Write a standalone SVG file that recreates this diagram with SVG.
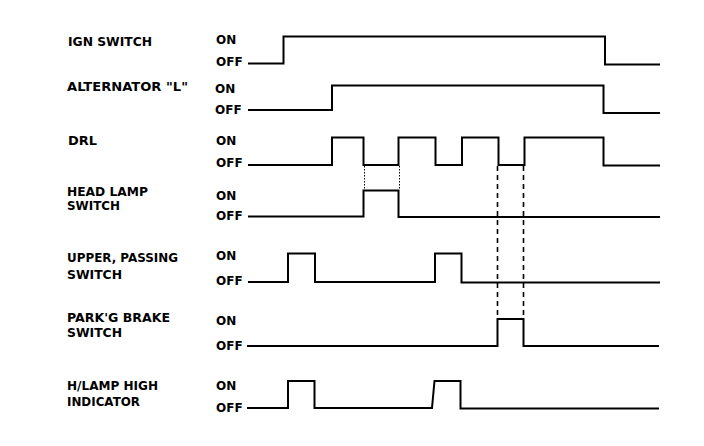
<svg xmlns="http://www.w3.org/2000/svg" width="704" height="446" viewBox="0 0 704 446">
<style>
.lbl{font-family:"DejaVu Sans","Liberation Sans",sans-serif;font-weight:bold;font-size:12px;fill:#000}
.st{font-family:"DejaVu Sans","Liberation Sans",sans-serif;font-weight:bold;font-size:12px;fill:#000}
.w{fill:none;stroke:#000;stroke-width:2;stroke-linejoin:miter}
.dot{fill:none;stroke:#000;stroke-width:1;stroke-dasharray:1.5 1.5}
.dash{fill:none;stroke:#000;stroke-width:1.6;stroke-dasharray:5 4}
</style>
<rect width="704" height="446" fill="#fff"/>
<g id="ign">
<text class="lbl" x="68" y="46" textLength="84" lengthAdjust="spacingAndGlyphs">IGN SWITCH</text>
<text class="st" x="216" y="44">ON</text>
<text class="st" x="216" y="66">OFF</text>
<path class="w" d="M248,63.5 H283.5 V36.5 H605 V64.5 H660"/>
</g>
<g id="alternator">
<text class="lbl" x="67" y="91" textLength="121" lengthAdjust="spacingAndGlyphs">ALTERNATOR "L"</text>
<text class="st" x="215" y="93">ON</text>
<text class="st" x="215" y="114">OFF</text>
<path class="w" d="M248,110 H332 V85.5 H603.5 V113 H660"/>
</g>
<g id="drl">
<text class="lbl" x="68" y="145" textLength="29" lengthAdjust="spacingAndGlyphs">DRL</text>
<text class="st" x="216" y="145">ON</text>
<text class="st" x="216" y="167">OFF</text>
<path class="w" d="M248,165 H332 V137.5 H363.5 V165 H398.5 V137.5 H435.5 V165 H462 V137.5 H498.5 V165 H524.5 V137.5 H603.5 V165.5 H660"/>
</g>
<g id="headlamp">
<text class="lbl" x="67" y="196" textLength="81" lengthAdjust="spacingAndGlyphs">HEAD LAMP</text>
<text class="lbl" x="67" y="210" textLength="53" lengthAdjust="spacingAndGlyphs">SWITCH</text>
<text class="st" x="216" y="200">ON</text>
<text class="st" x="216" y="220">OFF</text>
<path class="w" d="M248,216.5 H363.5 V190.5 H398.5 V217 H660"/>
</g>
<g id="upper">
<text class="lbl" x="67" y="262" textLength="111" lengthAdjust="spacingAndGlyphs">UPPER, PASSING</text>
<text class="lbl" x="67" y="279" textLength="55" lengthAdjust="spacingAndGlyphs">SWITCH</text>
<text class="st" x="216" y="260">ON</text>
<text class="st" x="216" y="285">OFF</text>
<path class="w" d="M248,282 H288 V253.5 H315 V282 H435 V253.5 H461.5 V282.5 H660"/>
</g>
<g id="parkbrake">
<text class="lbl" x="67" y="322" textLength="103" lengthAdjust="spacingAndGlyphs">PARK'G BRAKE</text>
<text class="lbl" x="67" y="337" textLength="55" lengthAdjust="spacingAndGlyphs">SWITCH</text>
<text class="st" x="216" y="325">ON</text>
<text class="st" x="216" y="350">OFF</text>
<path class="w" d="M247,346 H497.5 V319 H523.5 V346 H659"/>
</g>
<g id="hlamp">
<text class="lbl" x="67" y="390" textLength="91" lengthAdjust="spacingAndGlyphs">H/LAMP HIGH</text>
<text class="lbl" x="67" y="406" textLength="73" lengthAdjust="spacingAndGlyphs">INDICATOR</text>
<text class="st" x="216" y="390">ON</text>
<text class="st" x="216" y="412">OFF</text>
<path class="w" d="M247,408 H288 V381 H314.5 V408 H432 L434.5,381 H460.5 V408.5 H659"/>
</g>
<g id="connectors">
<line class="dot" x1="364.5" y1="166" x2="364.5" y2="190"/>
<line class="dot" x1="399.5" y1="166" x2="399.5" y2="190"/>
<line class="dash" x1="497.5" y1="166" x2="497.5" y2="319"/>
<line class="dash" x1="523.5" y1="166" x2="523.5" y2="319"/>
</g>
</svg>
